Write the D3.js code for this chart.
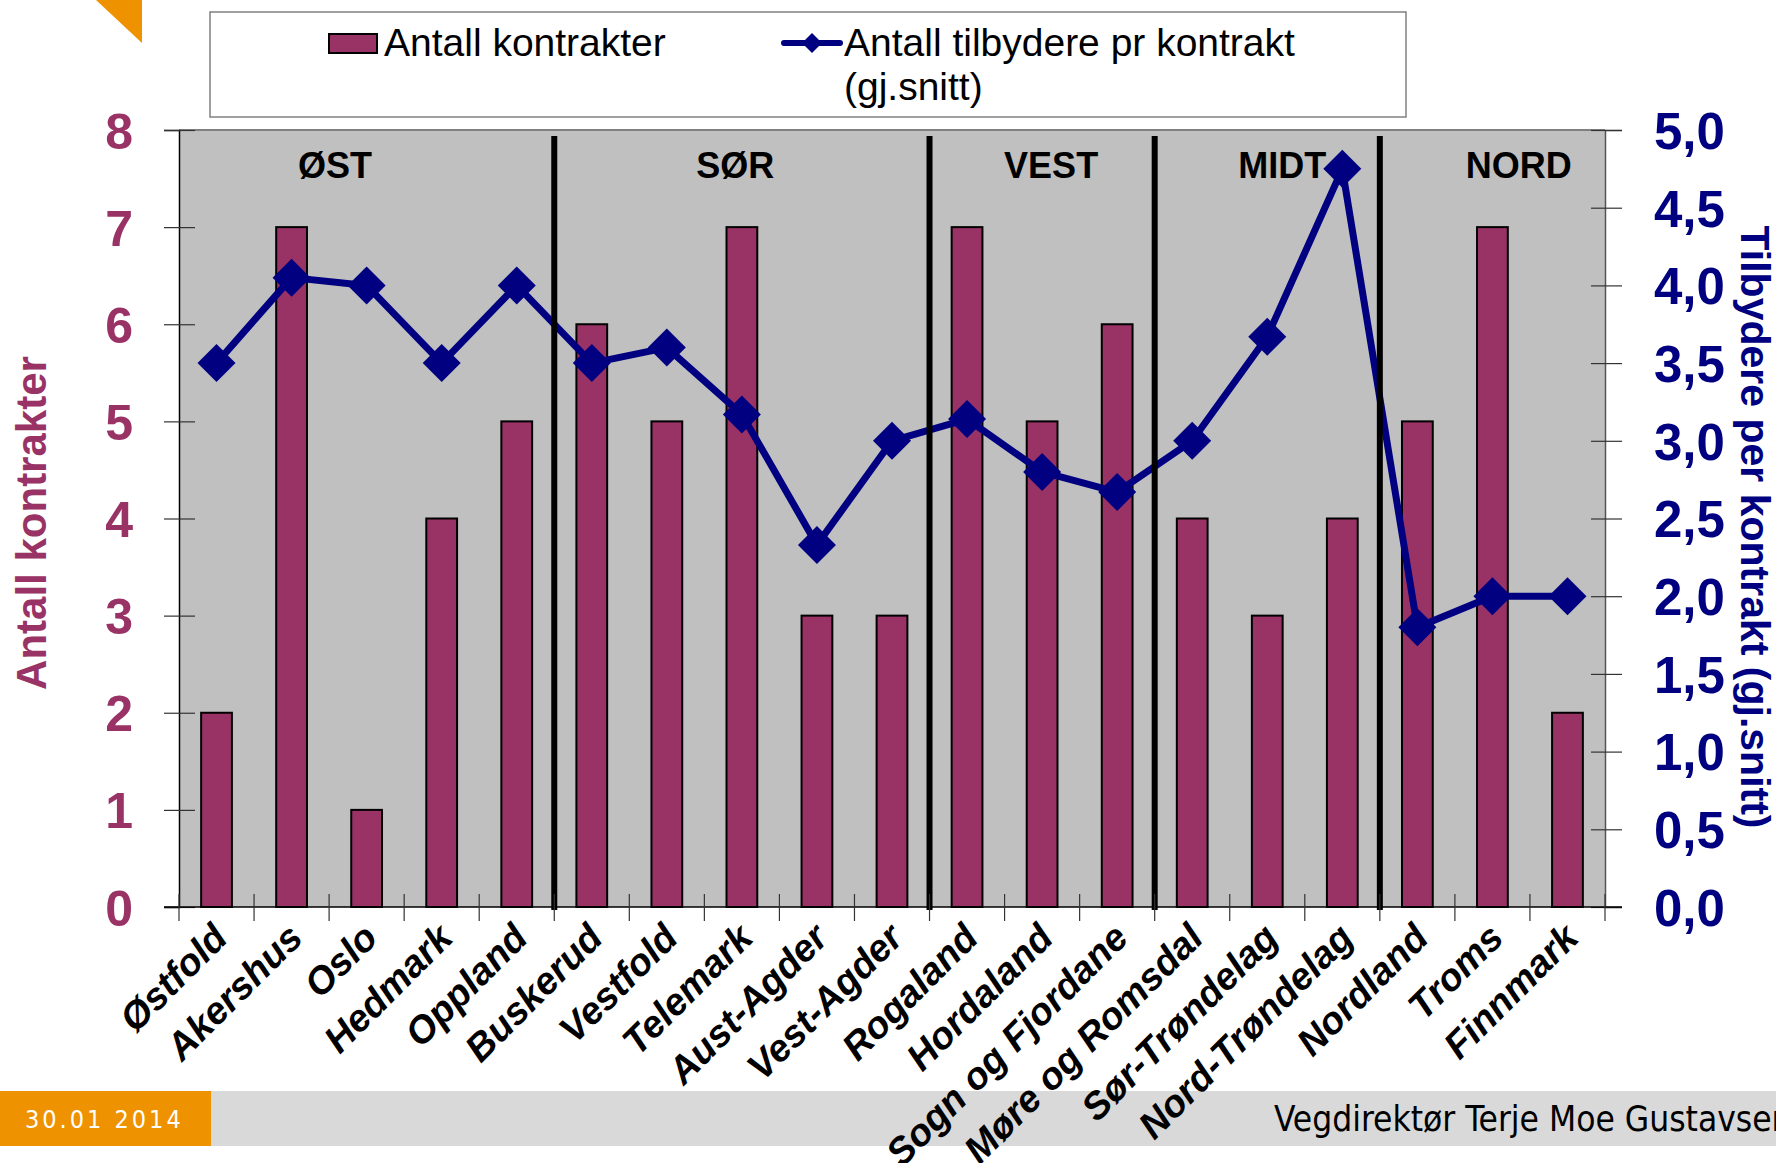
<!DOCTYPE html>
<html>
<head>
<meta charset="utf-8">
<script src="https://cdn.jsdelivr.net/npm/d3@7"></script>
<style>
  html, body { margin: 0; padding: 0; background: #fff; }
  svg { display: block; }
</style>
</head>
<body>
<svg id="chart" width="1776" height="1163"></svg>
<script>
// data
var categories = ["Østfold", "Akershus", "Oslo", "Hedmark", "Oppland",
                  "Buskerud", "Vestfold", "Telemark", "Aust-Agder", "Vest-Agder",
                  "Rogaland", "Hordaland", "Sogn og Fjordane",
                  "Møre og Romsdal", "Sør-Trøndelag", "Nord-Trøndelag",
                  "Nordland", "Troms", "Finnmark"];
var antallKontrakter = [2, 7, 1, 4, 5, 6, 5, 7, 3, 3, 7, 5, 6, 4, 3, 4, 5, 7, 2];
var tilbydere = [3.5, 4.05, 4.0, 3.5, 4.0, 3.5, 3.6, 3.17, 2.33, 3.0,
                 3.14, 2.8, 2.67, 3.0, 3.67, 4.75, 1.8, 2.0, 2.0];
var regionNames = ["ØST", "SØR", "VEST", "MIDT", "NORD"];
var regionStart = [0, 5, 10, 13, 16];   // first county index of each region
var leftTicks = [0, 1, 2, 3, 4, 5, 6, 7, 8];
var rightTicks = [0, 0.5, 1, 1.5, 2, 2.5, 3, 3.5, 4, 4.5, 5];

var barColor = "#993366";
var lineColor = "#000080";

var svg = d3.select("#chart");

// plot box
var pLeft = 179, pRight = 1605, pTop = 130, pBottom = 907;

var x = d3.scaleBand().domain(categories).range([pLeft, pRight]);
var yL = d3.scaleLinear().domain([0, 8]).range([pBottom, pTop]);
var yR = d3.scaleLinear().domain([0, 5]).range([pBottom, pTop]);
var bw = x.bandwidth();
var cx = function(c) { return x(c) + bw / 2; };

// corner triangle
svg.append("path")
  .attr("d", "M96,0 L142,0 L142,43 Z")
  .attr("fill", "#ef9200");

// footer
svg.append("rect").attr("x", 211).attr("y", 1091).attr("width", 1565).attr("height", 55).attr("fill", "#d9d9d9");
svg.append("rect").attr("x", 0).attr("y", 1091).attr("width", 211).attr("height", 55).attr("fill", "#ef9200");
svg.append("text")
  .attr("x", 25).attr("y", 1128)
  .attr("fill", "#fff")
  .style("font-family", "'DejaVu Sans Condensed', sans-serif")
  .style("font-size", "25px")
  .style("letter-spacing", "3px")
  .text("30.01 2014");
svg.append("text")
  .attr("x", 1274).attr("y", 1131)
  .attr("fill", "#000")
  .style("font-family", "'DejaVu Sans Condensed', sans-serif")
  .style("font-size", "35px")
  .text("Vegdirektør Terje Moe Gustavsen");

// plot background
svg.append("rect")
  .attr("x", pLeft).attr("y", pTop)
  .attr("width", pRight - pLeft).attr("height", pBottom - pTop)
  .attr("fill", "#c0c0c0");
svg.append("line")
  .attr("x1", pLeft).attr("x2", pRight).attr("y1", pTop).attr("y2", pTop)
  .attr("stroke", "#808080").attr("stroke-width", 2);

// region labels
var regionPos = [2.08, 7.41, 11.62, 14.7, 17.85];
svg.append("g").selectAll("text")
  .data(regionNames)
  .join("text")
  .attr("x", (d, i) => pLeft + regionPos[i] * bw)
  .attr("y", 178)
  .attr("text-anchor", "middle")
  .style("font-family", "'Liberation Sans', Arial, sans-serif")
  .style("font-weight", "bold")
  .style("font-size", "36px")
  .text(d => d);

// bars
svg.append("g").selectAll("rect")
  .data(categories)
  .join("rect")
  .attr("x", d => cx(d) - bw * 0.205)
  .attr("width", bw * 0.41)
  .attr("y", (d, i) => yL(antallKontrakter[i]))
  .attr("height", (d, i) => pBottom - yL(antallKontrakter[i]))
  .attr("fill", barColor)
  .attr("stroke", "#000")
  .attr("stroke-width", 2);

// line
var line = d3.line()
  .x((d, i) => cx(categories[i]))
  .y(d => yR(d));
svg.append("path")
  .datum(tilbydere)
  .attr("d", line)
  .attr("fill", "none")
  .attr("stroke", lineColor)
  .attr("stroke-width", 7)
  .attr("stroke-linejoin", "round");

// region separators
svg.append("g").selectAll("line")
  .data(regionStart.slice(1))
  .join("line")
  .attr("x1", d => x(categories[d])).attr("x2", d => x(categories[d]))
  .attr("y1", 136).attr("y2", 910)
  .attr("stroke", "#000")
  .attr("stroke-width", 6);

// markers
var diamond = function(r) { return "M0," + (-r) + " L" + r + ",0 L0," + r + " L" + (-r) + ",0 Z"; };
svg.append("g").selectAll("path")
  .data(tilbydere)
  .join("path")
  .attr("d", diamond(19))
  .attr("transform", (d, i) => "translate(" + cx(categories[i]) + "," + yR(d) + ")")
  .attr("fill", lineColor);

// left axis
var axL = svg.append("g")
  .attr("transform", "translate(" + pLeft + ",0)")
  .call(d3.axisLeft(yL).tickValues(leftTicks).tickSize(15).tickPadding(31));
axL.select(".domain").attr("stroke", "#000").attr("stroke-width", 1.5);
axL.selectAll(".tick line").attr("x1", 16).attr("stroke", "#333").attr("stroke-width", 1.2);
axL.selectAll(".tick text")
  .attr("fill", barColor)
  .style("font-family", "'Liberation Sans', Arial, sans-serif")
  .style("font-weight", "bold")
  .style("font-size", "50px")
  .attr("dy", "0.36em");

// right axis
var axR = svg.append("g")
  .attr("transform", "translate(" + pRight + ",0)")
  .call(d3.axisRight(yR).tickValues(rightTicks).tickSize(17).tickPadding(32)
    .tickFormat(d => d.toFixed(1).replace(".", ",")));
axR.select(".domain").attr("stroke", "#555").attr("stroke-width", 1.5);
axR.selectAll(".tick line").attr("x1", -14).attr("stroke", "#333").attr("stroke-width", 1.2);
axR.selectAll(".tick text")
  .attr("fill", lineColor)
  .style("font-family", "'Liberation Sans', Arial, sans-serif")
  .style("font-weight", "bold")
  .style("font-size", "51px")
  .attr("dy", "0.36em");

// bottom axis
var axB = svg.append("g");
axB.append("line")
  .attr("x1", pLeft - 15).attr("x2", pRight + 17)
  .attr("y1", pBottom).attr("y2", pBottom)
  .attr("stroke", "#000").attr("stroke-width", 1.5);
axB.selectAll(".xtick")
  .data(categories.map(c => x(c)).concat([pRight]))
  .join("line")
  .attr("class", "xtick")
  .attr("x1", d => d).attr("x2", d => d)
  .attr("y1", pBottom - 13).attr("y2", pBottom + 14)
  .attr("stroke", "#333").attr("stroke-width", 1.2);
axB.selectAll(".xlabel")
  .data(categories)
  .join("text")
  .attr("class", "xlabel")
  .attr("text-anchor", "end")
  .attr("transform", d => "translate(" + (cx(d) + 13) + "," + 940 + ") rotate(-45)")
  .style("font-family", "'Liberation Sans', Arial, sans-serif")
  .style("font-weight", "bold")
  .style("font-style", "italic")
  .style("font-size", "38px")
  .text(d => d);

// axis titles
svg.append("text")
  .attr("transform", "translate(46,523) rotate(-90)")
  .attr("text-anchor", "middle")
  .attr("fill", barColor)
  .style("font-family", "'Liberation Sans', Arial, sans-serif")
  .style("font-weight", "bold")
  .style("font-size", "42px")
  .text("Antall kontrakter");
svg.append("text")
  .attr("transform", "translate(1741,527) rotate(90)")
  .attr("text-anchor", "middle")
  .attr("fill", lineColor)
  .style("font-family", "'Liberation Sans', Arial, sans-serif")
  .style("font-weight", "bold")
  .style("font-size", "41px")
  .text("Tilbydere per kontrakt (gj.snitt)");

// legend
var lg = svg.append("g");
lg.append("rect")
  .attr("x", 210).attr("y", 12).attr("width", 1196).attr("height", 105)
  .attr("fill", "#fff").attr("stroke", "#808080").attr("stroke-width", 1.5);
lg.append("rect")
  .attr("x", 329).attr("y", 34).attr("width", 48).attr("height", 19)
  .attr("fill", barColor).attr("stroke", "#000").attr("stroke-width", 2);
lg.append("text")
  .attr("x", 384).attr("y", 56)
  .style("font-family", "'Liberation Sans', Arial, sans-serif")
  .style("font-size", "39px")
  .text("Antall kontrakter");
lg.append("line")
  .attr("x1", 784).attr("x2", 840).attr("y1", 43).attr("y2", 43)
  .attr("stroke", lineColor).attr("stroke-width", 6).attr("stroke-linecap", "round");
lg.append("path")
  .attr("d", diamond(10))
  .attr("transform", "translate(812,43)")
  .attr("fill", lineColor);
lg.append("text")
  .attr("x", 844).attr("y", 56)
  .style("font-family", "'Liberation Sans', Arial, sans-serif")
  .style("font-size", "39px")
  .text("Antall tilbydere pr kontrakt");
lg.append("text")
  .attr("x", 844).attr("y", 100)
  .style("font-family", "'Liberation Sans', Arial, sans-serif")
  .style("font-size", "39px")
  .text("(gj.snitt)");
</script>
</body>
</html>
